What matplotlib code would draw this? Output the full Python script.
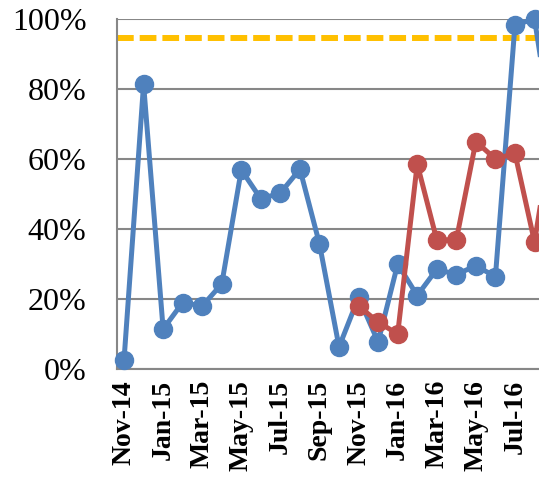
import matplotlib.pyplot as plt
from matplotlib.ticker import PercentFormatter

months = ["Nov-14", "Dec-14", "Jan-15", "Feb-15", "Mar-15", "Apr-15", "May-15", "Jun-15",
          "Jul-15", "Aug-15", "Sep-15", "Oct-15", "Nov-15", "Dec-15", "Jan-16", "Feb-16",
          "Mar-16", "Apr-16", "May-16", "Jun-16", "Jul-16", "Aug-16", "Sep-16"]
blue = [0.026, 0.814, 0.114, 0.19, 0.18, 0.243, 0.569, 0.486, 0.503, 0.571, 0.357, 0.063,
        0.205, 0.077, 0.30, 0.21, 0.285, 0.27, 0.295, 0.264, 0.983, 1.0, 0.64]
red = [None] * 12 + [0.18, 0.134, 0.10, 0.586, 0.369, 0.369, 0.65, 0.60, 0.616, 0.363, 0.71]
target = 0.945

BLUE = "#4F81BD"
RED = "#C0504D"
GOLD = "#FFC000"

fig = plt.figure(figsize=(5.39, 4.8), dpi=100)
ax = fig.add_axes([117 / 539, 111 / 480, 422 / 539, 350 / 480])

x = list(range(len(months)))
rx = [i for i, v in zip(x, red) if v is not None]
ry = [v for v in red if v is not None]

ax.axhline(target, color=GOLD, lw=4.3, dashes=(2.8, 1.0), zorder=2)
# markers are not clipped by the plot area (the figure edge crops the rest)
ax.plot(x, blue, color=BLUE, lw=3.6, marker="o", ms=13, zorder=3, clip_on=False)
ax.plot(rx, ry, color=RED, lw=3.6, marker="o", ms=13, zorder=4, clip_on=False)

# only the labels that fit in the visible part
ax.set_xticks(x[:21:2])
ax.set_xticklabels(months[:21:2], rotation=90, fontfamily="Liberation Serif",
                   fontweight="bold", fontsize=20)
ax.set_xlim(-0.36, 21.23)
ax.set_ylim(0, 1.0)
ax.set_yticks([0, 0.2, 0.4, 0.6, 0.8, 1.0])
ax.yaxis.set_major_formatter(PercentFormatter(1.0, decimals=0))
for lab in ax.get_yticklabels():
    lab.set_fontfamily("Liberation Serif")
    lab.set_fontsize(23)

ax.grid(axis="y", color="#878787", lw=1.5)
ax.set_axisbelow(True)
ax.tick_params(axis="both", length=0)
ax.tick_params(axis="y", pad=22)
ax.tick_params(axis="x", pad=8)
for side in ["top", "right"]:
    ax.spines[side].set_visible(False)
for side in ["left", "bottom"]:
    ax.spines[side].set_color("#878787")
    ax.spines[side].set_linewidth(1.5)

fig.savefig("out.png", dpi=100)
